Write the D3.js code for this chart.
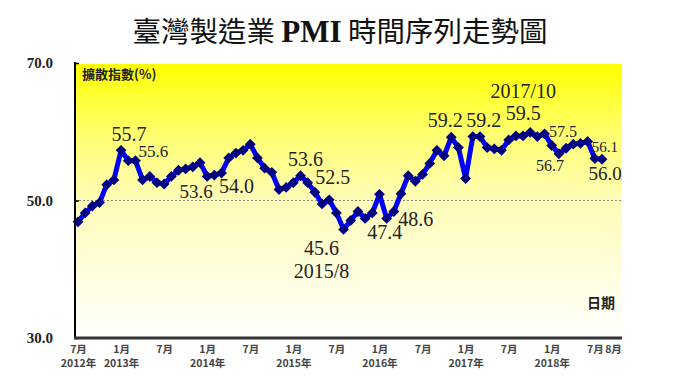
<!DOCTYPE html>
<html>
<head>
<meta charset="utf-8">
<script src="https://cdn.jsdelivr.net/npm/d3@7"></script>
<style>
  body { margin: 0; background: #fff; }
  svg { display: block; }
</style>
</head>
<body>
<div id="chart"></div>
<script>
// monthly PMI, 2012/7 .. 2018/8
const pmi = [
  46.9, 48.2, 49.2, 49.7, 52.3, 53.0,
  57.3, 55.8, 55.8, 53.0, 53.5, 52.6, 52.4, 53.5, 54.4, 54.6, 54.9, 55.5,
  53.5, 53.7, 54.0, 56.2, 56.9, 57.3, 58.2, 56.2, 54.7, 54.1, 51.6, 51.9,
  52.6, 53.6, 52.6, 51.2, 49.5, 50.1, 48.2, 45.8, 47.1, 48.4, 47.4, 48.2,
  50.9, 47.4, 48.4, 51.0, 53.6, 52.8, 53.8, 55.4, 57.3, 56.5, 59.2, 57.7,
  53.2, 59.3, 59.3, 57.7, 57.5, 57.3, 58.8, 59.4, 59.4, 59.9, 59.3, 59.7,
  58.0, 56.8, 57.6, 58.2, 58.3, 58.6, 56.1, 56.0
];

const months = d3.timeMonth.range(new Date(2012, 6, 1), new Date(2018, 8, 1));

// x axis labels
const monthTicks = [0, 6, 12, 18, 24, 30, 36, 42, 48, 54, 60, 66, 72, 73];
const monthTickText = ['7月', '1月', '7月', '1月', '7月', '1月', '7月', '1月', '7月', '1月', '7月', '1月', '7月', '8月'];
const yearTicks = [0, 6, 18, 30, 42, 54, 66];
const yearTickText = ['2012年', '2013年', '2014年', '2015年', '2016年', '2017年', '2018年'];
const yTicks = [30, 50, 70];

// callouts: month index and text
const notes = [
  {i: 6, text: '55.7'}, {i: 8, text: '55.6'}, {i: 18, text: '53.6'},
  {i: 20, text: '54.0'}, {i: 31, text: '53.6'}, {i: 32, text: '52.5'},
  {i: 37, text: '45.6'}, {i: 37, text: '2015/8'}, {i: 43, text: '47.4'},
  {i: 44, text: '48.6'}, {i: 52, text: '59.2'}, {i: 55, text: '59.2'},
  {i: 63, text: '2017/10'}, {i: 63, text: '59.5'}, {i: 68, text: '57.5'},
  {i: 67, text: '56.7'}, {i: 72, text: '56.1'}, {i: 73, text: '56.0'}
];
// where each callout sits relative to its point: [dx, dy, font size]
const noteLayout = [
  [8, -9, 20], [18, -4, 17], [-11, 22, 19],
  [15, 20, 20], [5, -10, 20], [25, 1, 20],
  [-22, 26, 20], [-22, 49, 20], [-2, 21, 20],
  [22, 14, 20], [-6, -10, 20], [11, -10, 20],
  [-7, -34, 20], [-7, -12, 20], [-3, -11, 16],
  [-9, 17, 16], [10, -7, 15], [3, 21, 19]
];

const width = 680, height = 383;
const plot = {left: 75, right: 622, top: 63, bottom: 338};

const svg = d3.select('#chart').append('svg')
  .attr('width', width)
  .attr('height', height);

const x = d3.scalePoint().domain(d3.range(pmi.length)).range([78, 602]);
const y = d3.scaleLinear().domain([30, 70]).range([plot.bottom, plot.top]);

// yellow fade background
const grad = svg.append('defs').append('linearGradient')
  .attr('id', 'bg').attr('x1', 0).attr('y1', 0).attr('x2', 0).attr('y2', 1);
grad.append('stop').attr('offset', '0%').attr('stop-color', '#ffff00');
grad.append('stop').attr('offset', '25%').attr('stop-color', '#ffff6e');
grad.append('stop').attr('offset', '50%').attr('stop-color', '#fffcb8');
grad.append('stop').attr('offset', '100%').attr('stop-color', '#ffffff');

svg.append('rect')
  .attr('x', plot.left).attr('y', plot.top + 1)
  .attr('width', plot.right - plot.left)
  .attr('height', plot.bottom - plot.top - 1)
  .attr('fill', 'url(#bg)');

// title
const title = svg.append('text')
  .attr('x', 340).attr('y', 42)
  .attr('text-anchor', 'middle')
  .attr('font-family', '"Noto Sans CJK TC", sans-serif')
  .attr('font-size', 28.5)
  .attr('fill', '#111');
title.append('tspan').text('臺灣製造業 ');
title.append('tspan')
  .attr('font-family', '"Liberation Serif", serif')
  .attr('font-weight', 'bold')
  .attr('font-size', 31)
  .text('PMI');
title.append('tspan').text(' 時間序列走勢圖');

// 50 reference line
svg.append('line')
  .attr('x1', plot.left).attr('x2', plot.right)
  .attr('y1', y(50)).attr('y2', y(50))
  .attr('stroke', '#888')
  .attr('stroke-width', 1)
  .attr('stroke-dasharray', '2,2');

// series
const line = d3.line().x((d, i) => x(i)).y((d) => y(d));
svg.append('path')
  .datum(pmi)
  .attr('d', line)
  .attr('fill', 'none')
  .attr('stroke', '#0000ff')
  .attr('stroke-width', 5)
  .attr('stroke-linejoin', 'round');

const diamond = d3.symbol().type(d3.symbolSquare).size(58);
svg.append('g').selectAll('path')
  .data(pmi)
  .join('path')
  .attr('d', diamond)
  .attr('transform', (d, i) => `translate(${x(i)},${y(d)}) rotate(45)`)
  .attr('fill', '#000080');

// callouts
svg.append('g').selectAll('text')
  .data(notes)
  .join('text')
  .attr('x', (d, k) => x(d.i) + noteLayout[k][0])
  .attr('y', (d, k) => y(pmi[d.i]) + noteLayout[k][1])
  .attr('font-size', (d, k) => noteLayout[k][2])
  .attr('text-anchor', 'middle')
  .attr('font-family', '"Liberation Serif", serif')
  .attr('fill', '#222')
  .text((d) => d.text);

// in-plot captions
svg.append('text')
  .attr('x', 82).attr('y', 79)
  .attr('font-family', '"Noto Sans CJK TC", sans-serif')
  .attr('font-weight', 'bold')
  .attr('font-size', 13)
  .attr('fill', '#222')
  .text('擴散指數(%)');

svg.append('text')
  .attr('x', 615).attr('y', 308)
  .attr('text-anchor', 'end')
  .attr('font-family', '"Noto Sans CJK TC", sans-serif')
  .attr('font-weight', 'bold')
  .attr('font-size', 14)
  .attr('fill', '#222')
  .text('日期');

// y axis
const yAxis = svg.append('g')
  .attr('transform', `translate(${plot.left},0)`)
  .call(d3.axisLeft(y).tickValues(yTicks).tickSizeInner(-4).tickSizeOuter(0)
    .tickPadding(22).tickFormat(d3.format('.1f')));
yAxis.select('.domain').attr('stroke', '#000').attr('stroke-width', 2)
  .attr('d', `M0,${plot.top - 1}V${plot.bottom}`);
yAxis.selectAll('.tick line').attr('stroke', '#000').attr('stroke-width', 1.5);
yAxis.selectAll('.tick text')
  .attr('font-family', '"Liberation Serif", serif')
  .attr('font-weight', 'bold')
  .attr('font-size', 15)
  .attr('fill', '#222');

// x axis
svg.append('line')
  .attr('x1', plot.left - 1).attr('x2', plot.right)
  .attr('y1', plot.bottom).attr('y2', plot.bottom)
  .attr('stroke', '#333').attr('stroke-width', 3);

const xAxis = svg.append('g')
  .attr('transform', `translate(0,${plot.bottom})`)
  .call(d3.axisBottom(x).tickValues(monthTicks).tickSize(0).tickPadding(8)
    .tickFormat((d) => monthTickText[monthTicks.indexOf(d)]));
xAxis.select('.domain').remove();
xAxis.selectAll('.tick text')
  .attr('font-family', '"Noto Sans CJK TC", sans-serif')
  .attr('font-weight', 'bold')
  .attr('font-size', 10.5)
  .attr('fill', '#444')
  .attr('dx', (d) => (d === 73 ? 11 : 0));

const yearAxis = svg.append('g')
  .attr('transform', `translate(0,${plot.bottom + 16})`)
  .call(d3.axisBottom(x).tickValues(yearTicks).tickSize(0).tickPadding(6)
    .tickFormat((d) => yearTickText[yearTicks.indexOf(d)]));
yearAxis.select('.domain').remove();
yearAxis.selectAll('.tick text')
  .attr('font-family', '"Noto Sans CJK TC", sans-serif')
  .attr('font-weight', 'bold')
  .attr('font-size', 10.5)
  .attr('fill', '#444');
</script>
</body>
</html>
